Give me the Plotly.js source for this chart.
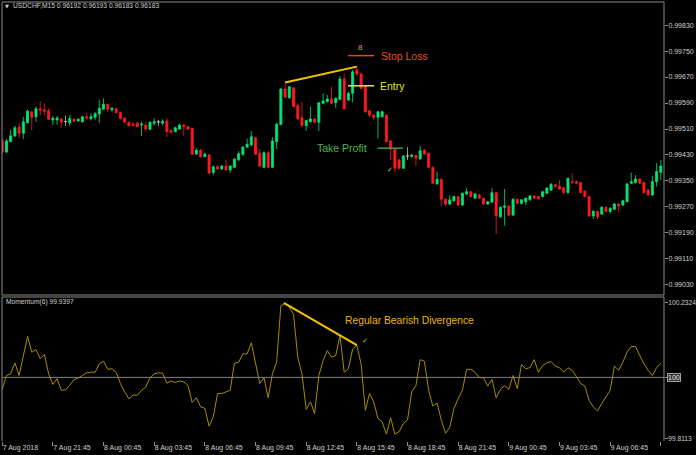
<!DOCTYPE html>
<html>
<head>
<meta charset="utf-8">
<script src="https://cdn.plot.ly/plotly-3.0.1.min.js"></script>
<style>
  html, body { margin: 0; padding: 0; background: #000; }
  #chart { width: 696px; height: 455px; }
</style>
</head>
<body>
<div id="chart"></div>
<script>
// USDCHF M15 candles (bar 0 = 7 Aug 2018 18:45)
const opens = [
  0.99474, 0.99439, 0.99471, 0.99489, 0.99516, 0.99497, 0.99529, 0.99563, 0.99548, 0.99572,
  0.99569, 0.99566, 0.99538, 0.99538, 0.99541, 0.99533, 0.99529, 0.99540, 0.99535, 0.99532,
  0.99548, 0.99542, 0.99546, 0.99556, 0.99571, 0.99586, 0.99569, 0.99572, 0.99561, 0.99544,
  0.99531, 0.99524, 0.99528, 0.99522, 0.99522, 0.99509, 0.99528, 0.99532, 0.99528, 0.99535,
  0.99505, 0.99502, 0.99510, 0.99522, 0.99517, 0.99512, 0.99433, 0.99445, 0.99425, 0.99430,
  0.99376, 0.99394, 0.99387, 0.99396, 0.99384, 0.99392, 0.99415, 0.99432, 0.99454, 0.99461,
  0.99483, 0.99435, 0.99392, 0.99437, 0.99392, 0.99471, 0.99524, 0.99633, 0.99606, 0.99637,
  0.99582, 0.99545, 0.99520, 0.99532, 0.99541, 0.99531, 0.99589, 0.99594, 0.99602, 0.99591,
  0.99601, 0.99664, 0.99599, 0.99620, 0.99692, 0.99679, 0.99640, 0.99566, 0.99553, 0.99546,
  0.99548, 0.99553, 0.99473, 0.99448, 0.99415, 0.99389, 0.99427, 0.99425, 0.99429, 0.99418,
  0.99445, 0.99435, 0.99392, 0.99341, 0.99355, 0.99294, 0.99279, 0.99289, 0.99302, 0.99276,
  0.99310, 0.99317, 0.99297, 0.99307, 0.99297, 0.99279, 0.99285, 0.99314, 0.99240, 0.99269,
  0.99273, 0.99245, 0.99294, 0.99281, 0.99286, 0.99292, 0.99304, 0.99302, 0.99302, 0.99312,
  0.99322, 0.99338, 0.99333, 0.99329, 0.99314, 0.99348, 0.99348, 0.99345, 0.99319, 0.99302,
  0.99242, 0.99256, 0.99248, 0.99269, 0.99256, 0.99263, 0.99279, 0.99276, 0.99286, 0.99343,
  0.99345, 0.99356, 0.99345, 0.99322, 0.99307, 0.99348, 0.99376
];
const highs = [
  0.99482, 0.99479, 0.99507, 0.99519, 0.99528, 0.99548, 0.99569, 0.99565, 0.99579, 0.99596,
  0.99589, 0.99574, 0.99550, 0.99550, 0.99544, 0.99551, 0.99553, 0.99544, 0.99543, 0.99550,
  0.99560, 0.99558, 0.99563, 0.99599, 0.99604, 0.99588, 0.99577, 0.99575, 0.99564, 0.99545,
  0.99533, 0.99532, 0.99532, 0.99532, 0.99532, 0.99533, 0.99543, 0.99538, 0.99540, 0.99543,
  0.99510, 0.99517, 0.99527, 0.99525, 0.99520, 0.99514, 0.99452, 0.99449, 0.99437, 0.99433,
  0.99397, 0.99398, 0.99399, 0.99415, 0.99399, 0.99421, 0.99442, 0.99458, 0.99481, 0.99504,
  0.99486, 0.99448, 0.99441, 0.99443, 0.99485, 0.99529, 0.99636, 0.99651, 0.99642, 0.99639,
  0.99589, 0.99593, 0.99538, 0.99579, 0.99545, 0.99593, 0.99620, 0.99615, 0.99640, 0.99608,
  0.99673, 0.99681, 0.99624, 0.99692, 0.99703, 0.99685, 0.99645, 0.99569, 0.99556, 0.99565,
  0.99567, 0.99556, 0.99476, 0.99450, 0.99418, 0.99430, 0.99454, 0.99433, 0.99432, 0.99458,
  0.99449, 0.99438, 0.99394, 0.99379, 0.99358, 0.99296, 0.99307, 0.99304, 0.99304, 0.99315,
  0.99328, 0.99320, 0.99313, 0.99311, 0.99299, 0.99289, 0.99328, 0.99316, 0.99272, 0.99325,
  0.99276, 0.99296, 0.99296, 0.99294, 0.99299, 0.99307, 0.99306, 0.99304, 0.99319, 0.99330,
  0.99343, 0.99341, 0.99353, 0.99332, 0.99361, 0.99374, 0.99352, 0.99347, 0.99321, 0.99304,
  0.99261, 0.99258, 0.99272, 0.99272, 0.99269, 0.99282, 0.99281, 0.99292, 0.99344, 0.99376,
  0.99368, 0.99358, 0.99347, 0.99325, 0.99365, 0.99405, 0.99415
];
const lows = [
  0.99430, 0.99436, 0.99470, 0.99485, 0.99482, 0.99479, 0.99528, 0.99507, 0.99532, 0.99553,
  0.99553, 0.99538, 0.99522, 0.99524, 0.99515, 0.99520, 0.99520, 0.99532, 0.99532, 0.99530,
  0.99538, 0.99536, 0.99538, 0.99529, 0.99569, 0.99562, 0.99562, 0.99558, 0.99539, 0.99528,
  0.99518, 0.99517, 0.99515, 0.99489, 0.99502, 0.99507, 0.99520, 0.99520, 0.99521, 0.99485,
  0.99495, 0.99499, 0.99507, 0.99489, 0.99507, 0.99430, 0.99430, 0.99421, 0.99422, 0.99372,
  0.99368, 0.99384, 0.99384, 0.99381, 0.99375, 0.99390, 0.99412, 0.99427, 0.99452, 0.99458,
  0.99430, 0.99393, 0.99390, 0.99390, 0.99390, 0.99448, 0.99522, 0.99605, 0.99604, 0.99577,
  0.99539, 0.99517, 0.99504, 0.99531, 0.99528, 0.99504, 0.99587, 0.99592, 0.99587, 0.99574,
  0.99599, 0.99569, 0.99596, 0.99592, 0.99673, 0.99633, 0.99561, 0.99547, 0.99538, 0.99481,
  0.99545, 0.99469, 0.99415, 0.99376, 0.99386, 0.99387, 0.99415, 0.99422, 0.99396, 0.99415,
  0.99430, 0.99390, 0.99341, 0.99338, 0.99273, 0.99273, 0.99276, 0.99286, 0.99273, 0.99273,
  0.99307, 0.99299, 0.99295, 0.99295, 0.99277, 0.99276, 0.99282, 0.99187, 0.99236, 0.99212,
  0.99242, 0.99242, 0.99279, 0.99278, 0.99276, 0.99289, 0.99295, 0.99292, 0.99299, 0.99310,
  0.99319, 0.99330, 0.99322, 0.99312, 0.99312, 0.99342, 0.99341, 0.99312, 0.99299, 0.99239,
  0.99233, 0.99233, 0.99245, 0.99253, 0.99249, 0.99261, 0.99256, 0.99273, 0.99284, 0.99341,
  0.99342, 0.99341, 0.99312, 0.99305, 0.99304, 0.99333, 0.99353
];
const closes = [
  0.99440, 0.99473, 0.99489, 0.99514, 0.99497, 0.99532, 0.99565, 0.99546, 0.99572, 0.99568,
  0.99565, 0.99540, 0.99543, 0.99544, 0.99531, 0.99533, 0.99542, 0.99534, 0.99540, 0.99548,
  0.99544, 0.99548, 0.99557, 0.99574, 0.99586, 0.99571, 0.99574, 0.99560, 0.99542, 0.99531,
  0.99520, 0.99521, 0.99517, 0.99525, 0.99510, 0.99531, 0.99532, 0.99532, 0.99534, 0.99502,
  0.99500, 0.99514, 0.99522, 0.99517, 0.99510, 0.99432, 0.99445, 0.99425, 0.99433, 0.99374,
  0.99394, 0.99387, 0.99396, 0.99384, 0.99396, 0.99417, 0.99434, 0.99454, 0.99463, 0.99486,
  0.99432, 0.99396, 0.99437, 0.99392, 0.99473, 0.99525, 0.99633, 0.99608, 0.99640, 0.99579,
  0.99541, 0.99520, 0.99536, 0.99541, 0.99531, 0.99591, 0.99596, 0.99602, 0.99589, 0.99604,
  0.99664, 0.99572, 0.99620, 0.99686, 0.99679, 0.99635, 0.99563, 0.99553, 0.99546, 0.99563,
  0.99563, 0.99471, 0.99448, 0.99389, 0.99389, 0.99427, 0.99427, 0.99430, 0.99420, 0.99443,
  0.99433, 0.99392, 0.99343, 0.99355, 0.99294, 0.99279, 0.99292, 0.99302, 0.99276, 0.99312,
  0.99317, 0.99302, 0.99310, 0.99297, 0.99279, 0.99286, 0.99314, 0.99243, 0.99269, 0.99273,
  0.99245, 0.99294, 0.99281, 0.99292, 0.99297, 0.99304, 0.99297, 0.99295, 0.99317, 0.99328,
  0.99340, 0.99333, 0.99325, 0.99314, 0.99358, 0.99345, 0.99343, 0.99314, 0.99302, 0.99242,
  0.99256, 0.99240, 0.99269, 0.99256, 0.99266, 0.99279, 0.99273, 0.99289, 0.99341, 0.99348,
  0.99356, 0.99343, 0.99314, 0.99307, 0.99348, 0.99379, 0.99396
];

// Momentum(6)
const momentum = [
  99.963, 100.006, 100.011, 100.045, 100.006, 100.068, 100.127, 100.078, 100.086, 100.058,
  100.071, 100.011, 99.978, 99.996, 99.960, 99.962, 99.975, 99.993, 99.998, 100.006,
  100.014, 100.016, 100.016, 100.042, 100.050, 100.025, 100.027, 100.016, 99.981, 99.955,
  99.934, 99.945, 99.945, 99.960, 99.970, 99.999, 100.011, 100.014, 100.013, 99.982,
  99.989, 99.984, 99.989, 99.986, 99.975, 99.922, 99.937, 99.909, 99.904, 99.849,
  99.878, 99.950, 99.950, 99.955, 99.960, 100.044, 100.047, 100.073, 100.073, 100.107,
  100.047, 99.981, 99.999, 99.937, 100.011, 100.047, 100.222, 100.229, 100.217, 100.196,
  100.063, 100.011, 99.901, 99.924, 99.888, 100.006, 100.052, 100.083, 100.063, 100.068,
  100.129, 100.016, 100.027, 100.088, 100.099, 100.042, 99.898, 99.950, 99.924, 99.873,
  99.862, 99.824, 99.875, 99.824, 99.832, 99.857, 99.868, 99.955, 99.975, 100.055,
  100.050, 99.960, 99.911, 99.921, 99.868, 99.827, 99.845, 99.904, 99.934, 99.960,
  100.025, 100.025, 100.016, 99.999, 99.999, 99.973, 99.994, 99.937, 99.963, 99.975,
  99.963, 100.006, 99.965, 100.040, 100.027, 100.030, 100.055, 100.016, 100.037, 100.045,
  100.049, 100.035, 100.030, 100.016, 100.030, 100.022, 100.003, 99.981, 99.973, 99.929,
  99.909, 99.896, 99.919, 99.939, 99.960, 100.035, 100.022, 100.047, 100.078, 100.095,
  100.096, 100.068, 100.042, 100.022, 100.006, 100.030, 100.044
];

const priceTicks = [0.99830, 0.99750, 0.99670, 0.99590, 0.99510, 0.99430, 0.99350, 0.99270, 0.99190, 0.99110, 0.99030];
const momTicks = [99.8113, 100, 100.2324];
const timeTicks = [
  '2018-08-07 18:45', '2018-08-07 21:45', '2018-08-08 00:45', '2018-08-08 03:45', '2018-08-08 06:45',
  '2018-08-08 09:45', '2018-08-08 12:45', '2018-08-08 15:45', '2018-08-08 18:45', '2018-08-08 21:45',
  '2018-08-09 00:45', '2018-08-09 03:45', '2018-08-09 06:45', '2018-08-09 09:45'
];
const timeLabels = [
  '7 Aug 2018', '7 Aug 21:45', '8 Aug 00:45', '8 Aug 03:45', '8 Aug 06:45',
  '8 Aug 09:45', '8 Aug 12:45', '8 Aug 15:45', '8 Aug 18:45', '8 Aug 21:45',
  '9 Aug 00:45', '9 Aug 03:45', '9 Aug 06:45', '9 Aug 09:45'
];

// levels drawn on the chart
const stopLoss = 0.99736, entry = 0.99643, takeProfit = 0.99451;

const t0 = Date.UTC(2018, 7, 7, 18, 45);
function barTime(i) {
  return new Date(t0 + i * 900000).toISOString().slice(0, 19).replace('T', ' ');
}
const times = opens.map((_, i) => barTime(i));

// doji bars are drawn grey, like the terminal does
const isDoji = opens.map((o, i) => o === closes[i]);
const pick = (arr, want) => arr.map((v, i) => isDoji[i] === want ? v : null);

const FONT = 'Liberation Sans, Arial, sans-serif';
const GREEN = '#00e676', RED = '#ff1a1a', FRAME = '#8a8a8a', TXT = '#d0d0d0';
const MAIN_BOT = 0.3326, SUB_TOP = 0.3280;

const traces = [{
  type: 'candlestick', x: times,
  open: pick(opens, false), high: pick(highs, false), low: pick(lows, false), close: pick(closes, false),
  increasing: { line: { color: GREEN, width: 0.8 }, fillcolor: GREEN },
  decreasing: { line: { color: RED, width: 0.8 }, fillcolor: RED },
  hoverinfo: 'skip', showlegend: false,
}, {
  type: 'candlestick', x: times,
  open: pick(opens, true), high: pick(highs, true), low: pick(lows, true), close: pick(closes, true),
  increasing: { line: { color: '#c8c8c8', width: 0.8 }, fillcolor: '#c8c8c8' },
  decreasing: { line: { color: '#c8c8c8', width: 0.8 }, fillcolor: '#c8c8c8' },
  hoverinfo: 'skip', showlegend: false,
}, {
  type: 'scatter', mode: 'lines', x: times, y: momentum, yaxis: 'y2',
  line: { color: '#a88c00', width: 1 },
  hoverinfo: 'skip', showlegend: false,
}];

const gold = '#f5c400';
const shapes = [
  // frames
  { type: 'rect', xref: 'paper', yref: 'paper', x0: 0, x1: 1, y0: MAIN_BOT, y1: 1, line: { color: FRAME, width: 1 } },
  { type: 'line', xref: 'paper', yref: 'paper', x0: 0, x1: 1, y0: SUB_TOP, y1: SUB_TOP, line: { color: FRAME, width: 1 } },
  { type: 'line', xref: 'paper', yref: 'paper', x0: 0, x1: 0, y0: 0, y1: SUB_TOP, line: { color: FRAME, width: 1 } },
  { type: 'line', xref: 'paper', yref: 'paper', x0: 1, x1: 1, y0: 0, y1: SUB_TOP, line: { color: FRAME, width: 1 } },
  // momentum 100 level
  { type: 'line', xref: 'paper', yref: 'y2', x0: 0, x1: 1, y0: 100, y1: 100, line: { color: '#808080', width: 1 } },
  // trade levels
  { type: 'line', xref: 'x', yref: 'y', x0: barTime(81.9), x1: barTime(88.1), y0: stopLoss, y1: stopLoss, line: { color: '#e04a12', width: 1.5 } },
  { type: 'line', xref: 'x', yref: 'y', x0: barTime(81.9), x1: barTime(88.1), y0: entry, y1: entry, line: { color: '#f0e640', width: 1.5 } },
  { type: 'line', xref: 'x', yref: 'y', x0: barTime(88.9), x1: barTime(94.9), y0: takeProfit, y1: takeProfit, line: { color: '#3fa03f', width: 1.5 } },
  // divergence lines
  { type: 'line', xref: 'x', yref: 'y', x0: barTime(67), x1: barTime(84), y0: 0.99653, y1: 0.99702, line: { color: gold, width: 2 } },
  { type: 'line', xref: 'x', yref: 'y2', x0: barTime(66.7), x1: barTime(84), y0: 100.231, y1: 100.100, line: { color: gold, width: 2 } },
];

const annotations = [
  { xref: 'paper', yref: 'paper', x: 0.002, y: 0.991, xanchor: 'left', yanchor: 'middle', showarrow: false,
    text: '▼', font: { family: 'DejaVu Sans', size: 5, color: TXT } },
  { xref: 'paper', yref: 'paper', x: 0.0136, y: 0.991, xanchor: 'left', yanchor: 'middle', showarrow: false,
    text: 'USDCHF,M15 0.96192 0.96193 0.96183 0.96183', font: { family: FONT, size: 6.7, color: TXT } },
  { xref: 'paper', yref: 'paper', x: 0.003, y: 0.3166, xanchor: 'left', yanchor: 'middle', showarrow: false,
    text: 'Momentum(6) 99.9397', font: { family: FONT, size: 6.7, color: TXT } },
  { xref: 'x', yref: 'y', x: barTime(84.8), y: 0.99761, xanchor: 'center', yanchor: 'middle', showarrow: false,
    text: '8', font: { family: FONT, size: 8, color: '#c8a848' } },
  { xref: 'x', yref: 'y', x: barTime(89.3), y: stopLoss, xanchor: 'left', yanchor: 'middle', showarrow: false,
    text: 'Stop Loss', font: { family: FONT, size: 10.5, color: '#e8531d' } },
  { xref: 'x', yref: 'y', x: barTime(89.0), y: entry, xanchor: 'left', yanchor: 'middle', showarrow: false,
    text: 'Entry', font: { family: FONT, size: 10.5, color: '#e8e040' } },
  { xref: 'x', yref: 'y', x: barTime(86.9), y: takeProfit, xanchor: 'right', yanchor: 'middle', showarrow: false,
    text: 'Take Profit', font: { family: FONT, size: 10.5, color: '#4cb84c' } },
  { xref: 'x', yref: 'y', x: barTime(91.9), y: 0.99385, xanchor: 'center', yanchor: 'middle', showarrow: false,
    text: '✓', font: { family: 'DejaVu Sans', size: 7, color: '#d4c020' } },
  { xref: 'x', yref: 'y2', x: barTime(80.7), y: 100.176, xanchor: 'left', yanchor: 'middle', showarrow: false,
    text: 'Regular Bearish Divergence', font: { family: FONT, size: 10.3, color: '#f0b400' } },
  { xref: 'x', yref: 'y2', x: barTime(85.9), y: 100.114, xanchor: 'center', yanchor: 'middle', showarrow: false,
    text: '✓', font: { family: 'DejaVu Sans', size: 7, color: '#d4c020' } },
  { xref: 'paper', yref: 'y2', x: 1.0045, y: 100, xanchor: 'left', yanchor: 'middle', showarrow: false,
    text: '100', font: { family: FONT, size: 7, color: '#f0f0f0' },
    bgcolor: '#303030', bordercolor: '#a0a0a0', borderwidth: 1, borderpad: 0 },
];

const layout = {
  width: 696, height: 455,
  margin: { l: 2, r: 32, t: 2, b: 14 },
  paper_bgcolor: '#000', plot_bgcolor: '#000',
  font: { family: FONT, size: 7, color: TXT },
  showlegend: false,
  xaxis: {
    type: 'date', anchor: 'y2',
    range: [barTime(-0.05), barTime(156.75)],
    rangeslider: { visible: false },
    tickmode: 'array', tickvals: timeTicks, ticktext: timeLabels,
    ticks: 'outside', ticklen: 4, tickcolor: FRAME, tickwidth: 1,
    ticklabelposition: 'outside right',
    tickfont: { family: FONT, size: 7, color: TXT },
    showgrid: false, zeroline: false, showline: false, fixedrange: true,
  },
  yaxis: {
    domain: [MAIN_BOT, 1], anchor: 'x', side: 'right',
    range: [0.98999, 0.99901],
    tickmode: 'array', tickvals: priceTicks, tickformat: '.5f',
    ticks: 'outside', ticklen: 3, tickcolor: FRAME, ticklabelstandoff: -1,
    tickfont: { family: FONT, size: 7, color: TXT },
    showgrid: false, zeroline: false, showline: false, fixedrange: true,
  },
  yaxis2: {
    domain: [0, SUB_TOP], anchor: 'x', side: 'right',
    range: [99.803, 100.249],
    tickmode: 'array', tickvals: momTicks, ticktext: ['99.8113', '', '100.2324'],
    ticks: 'outside', ticklen: 3, tickcolor: FRAME, ticklabelstandoff: -1,
    tickfont: { family: FONT, size: 6.6, color: TXT },
    showgrid: false, zeroline: false, showline: false, fixedrange: true,
  },
  shapes: shapes,
  annotations: annotations,
};

Plotly.newPlot('chart', traces, layout, { displayModeBar: false, staticPlot: true });
</script>
</body>
</html>
